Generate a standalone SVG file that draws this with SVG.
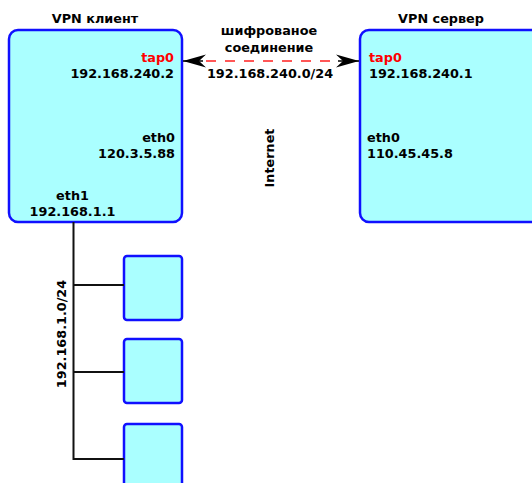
<svg xmlns="http://www.w3.org/2000/svg" width="532" height="483" viewBox="0 0 532 483">
<style>
.box{fill:#aaffff;stroke:#1010ff;stroke-width:2.5}
.t{font-family:"DejaVu Sans",Verdana,sans-serif;font-weight:bold;font-size:12.8px;fill:#000}
.r{fill:#ff0000}
.w{stroke:#111;stroke-width:2;fill:none}
</style>
<defs>
<marker id="ah" markerUnits="userSpaceOnUse" markerWidth="30" markerHeight="20" viewBox="-26 -10 30 20" refX="0" refY="0" orient="auto-start-reverse">
<path d="M0,0 L-23,-6.5 L-16,0 L-23,6.5 Z" fill="#000"/>
</marker>
</defs>
<g id="client">
<rect class="box" x="9" y="30" width="173" height="192" rx="9"/>
<text class="t" x="95" y="23" text-anchor="middle">VPN клиент</text>
<text class="t r" x="174" y="62" text-anchor="end">tap0</text>
<text class="t" x="174" y="78" text-anchor="end">192.168.240.2</text>
<text class="t" x="175" y="142" text-anchor="end">eth0</text>
<text class="t" x="175" y="158" text-anchor="end">120.3.5.88</text>
<text class="t" x="72.5" y="200" text-anchor="middle">eth1</text>
<text class="t" x="72.5" y="216" text-anchor="middle">192.168.1.1</text>
</g>
<g id="server">
<rect class="box" x="360" y="30" width="180" height="192" rx="9"/>
<text class="t" x="441" y="23" text-anchor="middle">VPN сервер</text>
<text class="t r" x="369" y="62">tap0</text>
<text class="t" x="369" y="78">192.168.240.1</text>
<text class="t" x="367" y="142">eth0</text>
<text class="t" x="367" y="158">110.45.45.8</text>
</g>
<g id="host1"><rect class="box" x="124" y="256" width="58" height="64" rx="3"/></g>
<g id="host2"><rect class="box" x="124" y="339" width="58" height="64" rx="3"/></g>
<g id="host3"><rect class="box" x="124" y="424" width="58" height="70" rx="3"/></g>
<g id="connectors">
<line x1="183" y1="61" x2="203" y2="61" stroke="#000" stroke-width="1.5" marker-start="url(#ah)"/>
<line x1="338" y1="61" x2="359" y2="61" stroke="#000" stroke-width="1.5" marker-end="url(#ah)"/>
<line x1="206" y1="61" x2="338" y2="61" stroke="#ff2020" stroke-width="1.6" stroke-dasharray="10,9"/>
<path class="w" d="M73.5,222 V459 H124 M73.5,285 H124 M73.5,372 H124"/>
</g>
<g id="labels">
<text class="t" x="269" y="35" text-anchor="middle">шифрованое</text>
<text class="t" x="269" y="52" text-anchor="middle">соединение</text>
<text class="t" x="270" y="78" text-anchor="middle">192.168.240.0/24</text>
<text class="t" transform="translate(274,158) rotate(-90)" text-anchor="middle" font-size="12">Internet</text>
<text class="t" transform="translate(66,334) rotate(-90)" text-anchor="middle" font-size="13.4">192.168.1.0/24</text>
</g>
</svg>
